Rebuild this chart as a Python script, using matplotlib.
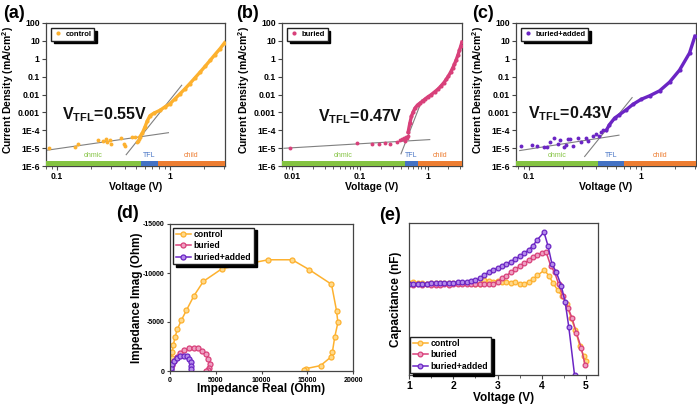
import matplotlib
matplotlib.use("Agg")
import matplotlib.pyplot as plt
from matplotlib.lines import Line2D
from matplotlib.ticker import FixedLocator, NullLocator, MultipleLocator, LogLocator, NullFormatter

plt.rcParams['font.family'] = ['Liberation Sans', 'DejaVu Sans']
plt.rcParams['font.weight'] = 'bold'
plt.rcParams['axes.labelweight'] = 'bold'
plt.rcParams['axes.unicode_minus'] = False
plt.rcParams['mathtext.fontset'] = 'custom'
plt.rcParams['mathtext.rm'] = 'Liberation Sans:bold'
plt.rcParams['mathtext.bf'] = 'Liberation Sans:bold'
plt.rcParams['mathtext.it'] = 'Liberation Sans:bold'

# ---------------- data: SCLC J-V ----------------
a_V_pts = [0.085, 0.143, 0.153, 0.231, 0.256, 0.27, 0.278, 0.293, 0.303, 0.372, 0.39, 0.40,
           0.457, 0.49, 0.51, 0.52, 0.53]
a_J_pts = [1.0e-5, 1.2e-5, 1.6e-5, 2.7e-5, 2.5e-5, 3.4e-5, 2.2e-5, 2.7e-5, 1.7e-5, 3.7e-5, 1.8e-5, 1.3e-5,
           4.2e-5, 4.0e-5, 2.2e-5, 2.6e-5, 3.2e-5]
a_V_curve = [0.54, 0.57, 0.6, 0.63, 0.665, 0.72, 0.815, 0.9, 1.0, 1.1, 1.227, 1.35, 1.5, 1.65, 1.85,
             2.05, 2.27, 2.5, 2.78, 3.05]
a_J_curve = [4.2e-5, 7e-5, 1.5e-4, 3.3e-4, 6.5e-4, 9e-4, 1.3e-3, 2e-3, 3.0e-3, 5.5e-3, 0.011, 0.02, 0.041,
             0.08, 0.18, 0.38, 0.82, 1.7, 3.7, 8.0]
a_fit_ohm = ([0.08, 0.97], [7.5e-6, 7.3e-5])
a_fit_tfl = ([0.41, 1.27], [4.3e-6, 0.033])
a_regions = [0.08, 0.55, 0.78, 3.07]

b_V_pts = [0.0092, 0.09, 0.15, 0.19, 0.233, 0.276, 0.347, 0.387, 0.42, 0.44, 0.46, 0.47, 0.49, 0.5]
b_J_pts = [9.8e-6, 1.9e-5, 1.6e-5, 1.7e-5, 2.0e-5, 1.8e-5, 2.3e-5, 2.8e-5, 3.2e-5, 3.6e-5, 2.6e-5, 4.2e-5,
           3.8e-5, 5.0e-5]
b_V_curve = [0.51, 0.54, 0.57, 0.6, 0.64, 0.7, 0.76, 0.83, 0.9, 1.0, 1.1, 1.25, 1.4, 1.55, 1.7, 1.85, 2.0,
             2.15, 2.3, 2.45, 2.6, 2.75, 2.9, 3.05, 3.15]
b_J_curve = [8e-5, 2.5e-4, 6e-4, 1.0e-3, 1.7e-3, 2.6e-3, 3.3e-3, 4.3e-3, 5.5e-3, 7.5e-3, 9.5e-3, 0.014, 0.02,
             0.03, 0.045, 0.07, 0.11, 0.18, 0.3, 0.5, 0.9, 1.6, 3.0, 5.5, 8.5]
b_fit_ohm = ([0.0076, 1.06], [9.8e-6, 3.0e-5])
b_fit_tfl = ([0.40, 0.82], [4.8e-6, 5.2e-3])
b_regions = [0.0071, 0.46, 0.71, 3.16]

c_V_pts = [0.086, 0.106, 0.118, 0.137, 0.146, 0.155, 0.167, 0.182, 0.19, 0.206, 0.213, 0.223, 0.232, 0.248,
           0.274, 0.29, 0.32, 0.336, 0.372, 0.40, 0.42, 0.44, 0.46]
c_J_pts = [1.4e-5, 1.5e-5, 1.4e-5, 1.2e-5, 1.1e-5, 2.2e-5, 3.5e-5, 1.6e-5, 3.0e-5, 1.1e-5, 1.5e-5, 3.2e-5,
           3.2e-5, 1.3e-5, 3.8e-5, 2.2e-5, 3.5e-5, 2.6e-5, 5.0e-5, 6.0e-5, 4.5e-5, 8e-5, 1.0e-4]
c_V_curve = [0.49, 0.52, 0.58, 0.64, 0.736, 0.843, 1.0, 1.185, 1.455, 1.785, 2.19, 2.69, 3.0]
c_J_curve = [1.0e-4, 2.0e-4, 4.8e-4, 7.4e-4, 1.4e-3, 2.8e-3, 5.4e-3, 8.4e-3, 0.016, 0.049, 0.23, 2.1, 18]
c_fit_ohm = ([0.083, 0.634], [7.3e-6, 5.3e-5])
c_fit_tfl = ([0.314, 0.83], [3.4e-6, 6.7e-3])
c_regions = [0.077, 0.41, 0.71, 3.07]

vtfl_labels = ['V$_{TFL}$=0.55V', 'V$_{TFL}$=0.47V', 'V$_{TFL}$=0.43V']
vtfl_pos = [(0.11, 7e-4), (0.024, 6e-4), (0.098, 9e-4)]
region_names = ['ohmic', 'TFL', 'child']
sample_names = ['control', 'buried', 'buried+added']

# ---------------- data: Nyquist ----------------
d_re_control = [50, 100, 180, 255, 365, 550, 800, 1250, 1800, 2600, 3650, 5700, 8250, 10750, 13350,
                15200, 17650, 18200, 18350, 18000, 17750, 17550, 16450, 14900, 14600]
d_im_control = [-300, -750, -1350, -1950, -2650, -3450, -4250, -5200, -6200, -7650, -9150, -10450, -10900,
                -11350, -11350, -10350, -8850, -6150, -4950, -3450, -1950, -1400, -550, -250, -100]
d_re_buried = [120, 250, 450, 720, 1050, 1550, 2050, 2600, 3100, 3550, 3930, 4200, 4330, 4300, 4150, 3900]
d_im_buried = [-300, -650, -1000, -1400, -1800, -2120, -2300, -2380, -2320, -2080, -1700, -1230, -730, -300,
               -80, 0]
d_re_added = [60, 130, 260, 470, 770, 1130, 1500, 1820, 2080, 2260, 2330, 2300]
d_im_added = [-100, -300, -700, -1050, -1330, -1500, -1560, -1500, -1260, -920, -510, -170]

# ---------------- data: C-V ----------------
flatV = [1.0, 1.1, 1.2, 1.3, 1.4, 1.5, 1.6, 1.7, 1.8, 1.9, 2.0, 2.1, 2.2, 2.3, 2.4, 2.5, 2.6, 2.7, 2.8, 2.9,
         3.0, 3.1, 3.2, 3.3, 3.4, 3.5, 3.6, 3.7, 3.8, 3.9]
e_V_control = flatV + [4.06, 4.16, 4.26, 4.36, 4.46, 4.56, 4.66, 4.76, 4.86, 4.95, 5.0]
e_C_control = [0.605, 0.61, 0.603, 0.608, 0.600, 0.606, 0.602, 0.607, 0.603, 0.605, 0.604, 0.606, 0.603,
               0.607, 0.605, 0.600, 0.598, 0.625, 0.620, 0.615, 0.620, 0.610, 0.612, 0.608, 0.610, 0.600,
               0.600, 0.612, 0.630, 0.655,
               0.69, 0.653, 0.602, 0.558, 0.52, 0.466, 0.378, 0.295, 0.19, 0.125, 0.092]
e_V_buried = flatV + [4.0, 4.1, 4.2, 4.29, 4.38, 4.48, 4.59, 4.68, 4.78, 4.89, 4.98]
e_C_buried = [0.598, 0.595, 0.597, 0.594, 0.596, 0.593, 0.595, 0.594, 0.596, 0.595, 0.597, 0.596, 0.598,
              0.597, 0.596, 0.598, 0.597, 0.596, 0.598, 0.600, 0.615, 0.635, 0.653, 0.675, 0.697, 0.715,
              0.734, 0.755, 0.774, 0.79,
              0.80, 0.807, 0.72, 0.675, 0.598, 0.52, 0.444, 0.378, 0.279, 0.18, 0.064]
e_V_added = flatV + [4.05, 4.14, 4.23, 4.33, 4.44, 4.53, 4.61, 4.74]
e_C_added = [0.600, 0.598, 0.600, 0.598, 0.600, 0.602, 0.603, 0.605, 0.606, 0.607, 0.608, 0.610, 0.612,
             0.614, 0.616, 0.622, 0.635, 0.660, 0.675, 0.690, 0.703, 0.716, 0.730, 0.746, 0.763, 0.780,
             0.800, 0.823, 0.850, 0.890,
             0.94, 0.85, 0.73, 0.675, 0.587, 0.477, 0.316, 0.0]

# ---------------- styles ----------------
c_orange = '#FDB12F'
c_pink = '#D8407A'
c_purple = '#6B25C4'
face_orange = '#FFD98A'
face_pink = '#EFA0C2'
face_purple = '#B58CEB'
band_colors = ['#84C341', '#4472C4', '#ED7D31']
spine_col = '#444444'

fig = plt.figure(figsize=(6.97, 4.05), dpi=100)
W, H = 697.0, 405.0

def frac(l, t, r, b):
    return [l / W, 1 - b / H, (r - l) / W, (b - t) / H]

axA = fig.add_axes(frac(46, 23, 225, 166))
axB = fig.add_axes(frac(282, 23, 462, 166))
axC = fig.add_axes(frac(516, 23, 696, 166))
axD = fig.add_axes(frac(170, 224, 353, 371))
axE = fig.add_axes(frac(409, 223, 598, 375))

def style_spines(ax):
    for s in ax.spines.values():
        s.set_color(spine_col)
        s.set_linewidth(0.9)

jv = [
    (axA, a_V_pts, a_J_pts, a_V_curve, a_J_curve, a_fit_ohm, a_fit_tfl, a_regions, c_orange, [0.1, 1], ['0.1', '1']),
    (axB, b_V_pts, b_J_pts, b_V_curve, b_J_curve, b_fit_ohm, b_fit_tfl, b_regions, c_pink, [0.01, 0.1, 1], ['0.01', '0.1', '1']),
    (axC, c_V_pts, c_J_pts, c_V_curve, c_J_curve, c_fit_ohm, c_fit_tfl, c_regions, c_purple, [0.1, 1], ['0.1', '1']),
]
ytick_vals = [1e-6, 1e-5, 1e-4, 1e-3, 1e-2, 1e-1, 1, 10, 100]
ytick_labs = ['1E-6', '1E-5', '1E-4', '0.001', '0.01', '0.1', '1', '10', '100']

for i, (ax, vp, jp, vc, jc, fo, ft, reg, col, xt, xtl) in enumerate(jv):
    ax.set_xscale('log')
    ax.set_yscale('log')
    ax.set_xlim(reg[0], reg[-1])
    ax.set_ylim(1e-6, 100)
    # fit lines
    ax.plot(fo[0], fo[1], color='#808080', lw=0.8, zorder=2)
    ax.plot(ft[0], ft[1], color='#808080', lw=0.8, zorder=2)
    # data
    ax.plot(vp, jp, 'o', color=col, ms=2.8, mew=0, zorder=3)
    ax.plot(vc, jc, '-o', color=col, lw=2.4, ms=3.0, mew=0, zorder=3)
    # region bands
    for k in range(3):
        ax.fill_between([reg[k], reg[k + 1]], 1e-6, 1.9e-6, color=band_colors[k], lw=0, zorder=4)
        xc = (reg[k] * reg[k + 1]) ** 0.5
        ax.text(xc, 4.0e-6, region_names[k], color=band_colors[k], fontsize=5,
                fontweight='normal', ha='center', va='center')
    ax.text(vtfl_pos[i][0], vtfl_pos[i][1], vtfl_labels[i], fontsize=11.5, fontweight='bold',
            ha='left', va='center', color='#111111')
    ax.xaxis.set_major_locator(FixedLocator(xt))
    ax.set_xticklabels(xtl)
    ax.xaxis.set_minor_locator(LogLocator(base=10, subs=range(2, 10)))
    ax.xaxis.set_minor_formatter(NullFormatter())
    ax.yaxis.set_major_locator(FixedLocator(ytick_vals))
    ax.set_yticklabels(ytick_labs)
    ax.yaxis.set_minor_locator(NullLocator())
    ax.tick_params(axis='both', which='major', direction='out', length=3, width=0.8,
                   labelsize=6.2, pad=1.5, color=spine_col)
    ax.tick_params(axis='x', which='minor', direction='out', length=1.8, width=0.6, color=spine_col)
    style_spines(ax)
    ax.set_xlabel('Voltage (V)', fontsize=7.5, fontweight='bold')
    ax.set_ylabel('Current Density (mA/cm$^2$)', fontsize=7.5, fontweight='bold')
    ax.xaxis.set_label_coords(0.5, -0.115)
    ax.yaxis.set_label_coords(-0.165, 0.53)
    h = Line2D([], [], marker='o', ls='none', color=col, ms=3, mew=0)
    ax.legend([h], [sample_names[i]], loc='upper left', bbox_to_anchor=(0.03, 0.965),
              borderaxespad=0, fontsize=5.5, frameon=True, fancybox=False, edgecolor='#222222',
              framealpha=1, handlelength=1.0, handletextpad=0.5, borderpad=0.35,
              shadow={'color': 'black', 'alpha': 1})

# ---------------- panel d ----------------
d_series = [(d_re_control, d_im_control, c_orange, face_orange, 'control'),
            (d_re_buried, d_im_buried, c_pink, face_pink, 'buried'),
            (d_re_added, d_im_added, c_purple, face_purple, 'buried+added')]
for x, y, col, fc, lab in d_series:
    axD.plot(x, y, '-o', color=col, lw=1.1, ms=3.6, mfc=fc, mec=col, mew=0.9, label=lab)
axD.set_xlim(0, 20000)
axD.set_ylim(0, -15000)
axD.set_xticks([0, 5000, 10000, 15000, 20000])
axD.set_yticks([0, -5000, -10000, -15000])
axD.tick_params(axis='both', direction='out', length=2.5, width=0.8, labelsize=5, pad=1.5, color=spine_col)
style_spines(axD)
axD.set_xlabel('Impedance Real (Ohm)', fontsize=8.5, fontweight='bold')
axD.set_ylabel('Impedance Imag (Ohm)', fontsize=8.5, fontweight='bold')
axD.xaxis.set_label_coords(0.5, -0.085)
axD.yaxis.set_label_coords(-0.15, 0.5)
axD.legend(loc='upper left', bbox_to_anchor=(0.016, 0.975), borderaxespad=0, fontsize=6.2,
           frameon=True, fancybox=False, edgecolor='#222222', framealpha=1, handlelength=1.8,
           handletextpad=0.3, borderpad=0.3, labelspacing=0.25,
           shadow={'color': 'black', 'alpha': 1})

# ---------------- panel e ----------------
e_series = [(e_V_control, e_C_control, c_orange, face_orange, 'control'),
            (e_V_buried, e_C_buried, c_pink, face_pink, 'buried'),
            (e_V_added, e_C_added, c_purple, face_purple, 'buried+added')]
for x, y, col, fc, lab in e_series:
    axE.plot(x, y, '-o', color=col, lw=1.1, ms=3.4, mfc=fc, mec=col, mew=0.9, label=lab, clip_on=True)
axE.set_xlim(1, 5.27)
axE.set_ylim(0, 1.0)
axE.set_xticks([1, 2, 3, 4, 5])
axE.xaxis.set_minor_locator(MultipleLocator(0.5))
axE.set_yticks([])
axE.tick_params(axis='x', which='major', direction='out', length=3, width=0.8, labelsize=7.5, pad=1.5,
                color=spine_col)
axE.tick_params(axis='x', which='minor', direction='out', length=1.8, width=0.6, color=spine_col)
style_spines(axE)
axE.set_xlabel('Voltage (V)', fontsize=8.5, fontweight='bold')
axE.set_ylabel('Capacitance (nF)', fontsize=8.5, fontweight='bold')
axE.xaxis.set_label_coords(0.5, -0.11)
axE.yaxis.set_label_coords(-0.035, 0.5)
axE.legend(loc='lower left', bbox_to_anchor=(0.005, 0.012), borderaxespad=0, fontsize=6.2,
           frameon=True, fancybox=False, edgecolor='#222222', framealpha=1, handlelength=1.8,
           handletextpad=0.3, borderpad=0.3, labelspacing=0.25,
           shadow={'color': 'black', 'alpha': 1})

# ---------------- panel labels ----------------
for txt, px, py in [('(a)', 3, 14), ('(b)', 236, 14), ('(c)', 472, 14), ('(d)', 116, 213), ('(e)', 379, 216)]:
    fig.text(px / W, 1 - py / H, txt, fontsize=13, fontweight='bold', ha='left', va='center')

fig.savefig('out.png', dpi=100)
